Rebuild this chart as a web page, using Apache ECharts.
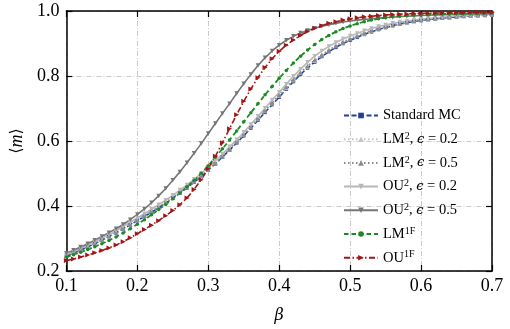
<!DOCTYPE html>
<html>
<head>
<meta charset="utf-8">
<script src="https://cdn.jsdelivr.net/npm/echarts@6/dist/echarts.min.js"></script>
<style>html,body{margin:0;padding:0;background:#fff}#c{width:510px;height:329px}</style>
</head>
<body>
<div id="c"></div>
<script>
const beta = [0.10,0.11,0.12,0.13,0.14,0.15,0.16,0.17,0.18,0.19,0.20,0.21,0.22,0.23,0.24,0.25,0.26,0.27,0.28,0.29,0.30,0.31,0.32,0.33,0.34,0.35,0.36,0.37,0.38,0.39,0.40,0.41,0.42,0.43,0.44,0.45,0.46,0.47,0.48,0.49,0.50,0.51,0.52,0.53,0.54,0.55,0.56,0.57,0.58,0.59,0.60,0.61,0.62,0.63,0.64,0.65,0.66,0.67,0.68,0.69,0.70];

const standardMC = [0.246,0.255,0.264,0.274,0.284,0.295,0.306,0.317,0.329,0.342,0.355,0.368,0.381,0.395,0.409,0.424,0.440,0.456,0.473,0.491,0.510,0.530,0.551,0.572,0.594,0.616,0.640,0.664,0.688,0.712,0.735,0.760,0.783,0.805,0.825,0.843,0.860,0.875,0.888,0.900,0.910,0.919,0.928,0.936,0.943,0.949,0.955,0.960,0.964,0.968,0.971,0.974,0.976,0.978,0.980,0.982,0.984,0.985,0.986,0.987,0.988];

const lm2_02 = [0.248,0.257,0.266,0.276,0.286,0.297,0.308,0.320,0.332,0.345,0.358,0.371,0.384,0.398,0.412,0.427,0.443,0.459,0.476,0.494,0.513,0.533,0.554,0.575,0.597,0.620,0.644,0.668,0.692,0.716,0.740,0.764,0.787,0.809,0.829,0.847,0.864,0.879,0.892,0.904,0.914,0.923,0.931,0.939,0.946,0.952,0.957,0.962,0.966,0.969,0.972,0.975,0.977,0.979,0.981,0.983,0.985,0.986,0.987,0.988,0.989];

const lm2_05 = [0.247,0.256,0.265,0.275,0.285,0.296,0.307,0.319,0.331,0.344,0.357,0.370,0.383,0.397,0.411,0.426,0.442,0.458,0.475,0.493,0.512,0.532,0.553,0.575,0.598,0.621,0.645,0.669,0.694,0.718,0.742,0.766,0.789,0.811,0.831,0.849,0.865,0.880,0.893,0.905,0.915,0.924,0.932,0.940,0.946,0.952,0.957,0.962,0.966,0.969,0.972,0.975,0.977,0.979,0.981,0.983,0.985,0.986,0.987,0.988,0.989];

const ou2_02 = [0.250,0.259,0.269,0.279,0.290,0.301,0.312,0.324,0.337,0.350,0.363,0.376,0.390,0.404,0.418,0.433,0.449,0.465,0.482,0.500,0.519,0.539,0.560,0.582,0.604,0.627,0.651,0.676,0.701,0.726,0.750,0.775,0.799,0.821,0.842,0.861,0.877,0.891,0.903,0.914,0.923,0.931,0.939,0.946,0.952,0.957,0.962,0.966,0.969,0.972,0.975,0.977,0.979,0.981,0.983,0.985,0.986,0.987,0.988,0.989,0.990];

const ou2_05 = [0.255,0.264,0.274,0.284,0.295,0.306,0.318,0.330,0.343,0.358,0.374,0.391,0.410,0.431,0.454,0.479,0.505,0.533,0.562,0.592,0.623,0.654,0.685,0.715,0.746,0.776,0.805,0.832,0.856,0.877,0.895,0.910,0.922,0.932,0.940,0.947,0.953,0.958,0.962,0.966,0.969,0.972,0.974,0.976,0.978,0.980,0.981,0.983,0.984,0.985,0.986,0.987,0.988,0.988,0.989,0.990,0.990,0.991,0.991,0.992,0.992];

const lm1f = [0.243,0.250,0.258,0.266,0.275,0.284,0.294,0.305,0.317,0.330,0.344,0.358,0.373,0.389,0.405,0.422,0.440,0.459,0.479,0.501,0.524,0.550,0.576,0.603,0.631,0.659,0.687,0.715,0.742,0.768,0.793,0.817,0.840,0.861,0.880,0.897,0.912,0.925,0.936,0.946,0.954,0.961,0.967,0.972,0.976,0.979,0.982,0.984,0.986,0.987,0.988,0.989,0.990,0.991,0.991,0.992,0.992,0.993,0.993,0.994,0.994];

const ou1f = [0.232,0.237,0.243,0.249,0.256,0.263,0.271,0.280,0.290,0.302,0.315,0.328,0.341,0.355,0.370,0.386,0.404,0.425,0.451,0.481,0.515,0.553,0.595,0.638,0.681,0.722,0.760,0.795,0.826,0.853,0.876,0.895,0.911,0.925,0.937,0.947,0.955,0.962,0.967,0.972,0.976,0.979,0.982,0.984,0.986,0.988,0.989,0.990,0.991,0.992,0.993,0.993,0.994,0.994,0.995,0.995,0.995,0.996,0.996,0.996,0.996];

const xTicks = [0.1,0.2,0.3,0.4,0.5,0.6,0.7];
const yTicks = [0.2,0.4,0.6,0.8,1.0];

const SERIF = 'Liberation Serif, DejaVu Serif, serif';

const seriesDefs = [
  {name:'std', values:standardMC, color:'#22409a', dash:[5,2.5], symbol:'rect', size:3.5, rot:0, width:1.6},
  {name:'lm02', values:lm2_02, color:'#c4c4c4', dash:[1.5,2.5], symbol:'triangle', size:4.5, rot:0, width:1.6},
  {name:'lm05', values:lm2_05, color:'#8a8a8a', dash:[1.5,2.5], symbol:'triangle', size:4.5, rot:0, width:1.6},
  {name:'ou02', values:ou2_02, color:'#b8b8b8', dash:'solid', symbol:'triangle', size:4.5, rot:180, width:1.6},
  {name:'ou02b', values:ou2_05, color:'#767676', dash:'solid', symbol:'triangle', size:4.5, rot:180, width:1.6},
  {name:'lm1f', values:lm1f, color:'#1c8a24', dash:[4.5,3], symbol:'circle', size:3.5, rot:0, width:1.8},
  {name:'ou1f', values:ou1f, color:'#a31616', dash:[6,2.5,1.5,2.5], symbol:'triangle', size:5, rot:-90, width:1.6}
];

const labels = {
  std: '{n|Standard MC}',
  lm02: '{n|LM}{s|2}{n|, }{e|ϵ}{n| = 0.2}',
  lm05: '{n|LM}{s|2}{n|, }{e|ϵ}{n| = 0.5}',
  ou02: '{n|OU}{s|2}{n|, }{e|ϵ}{n| = 0.2}',
  ou02b: '{n|OU}{s|2}{n|, }{e|ϵ}{n| = 0.5}',
  lm1f: '{n|LM}{s|1F}',
  ou1f: '{n|OU}{s|1F}'
};

const series = seriesDefs.map(d => ({
  name: d.name,
  type: 'line',
  xAxisIndex: 0, yAxisIndex: 0,
  data: beta.map((b,i) => [b, d.values[i]]),
  showSymbol: true,
  symbol: d.symbol,
  symbolSize: d.size,
  symbolRotate: d.rot,
  itemStyle: {color: d.color},
  lineStyle: {color: d.color, width: d.width, type: d.dash},
  animation: false,
  z: 3
}));

const gridLine = {show:true, lineStyle:{color:'#bdbdbd', width:0.8, type:[5,2,1,2]}};
const frame = {show:true, lineStyle:{color:'#000', width:1.5}};
const tickIn = {show:true, inside:true, length:6, lineStyle:{color:'#000', width:1.2}};

const chart = echarts.init(document.getElementById('c'), null, {renderer:'canvas'});
chart.setOption({
  animation:false,
  backgroundColor:'#fff',
  grid:{left:63, right:18, top:11, bottom:55, containLabel:false},
  legend:{
    orient:'vertical', left:338, top:103, itemWidth:34, itemHeight:7, itemGap:8.2,
    data: seriesDefs.map(d=>d.name),
    formatter: n => labels[n],
    textStyle:{fontFamily:SERIF, fontSize:14, color:'#000',
      rich:{
        n:{fontFamily:SERIF, fontSize:14.5, color:'#000', lineHeight:16},
        s:{fontFamily:SERIF, fontSize:10, color:'#000', verticalAlign:'top', lineHeight:10},
        e:{fontFamily:'DejaVu Serif, serif', fontStyle:'italic', fontSize:13, color:'#000', lineHeight:16}
      }}
  },
  xAxis:[
    {type:'value', min:0.1, max:0.7, interval:0.1, position:'bottom',
     axisLine:frame, axisTick:tickIn, splitLine:gridLine,
     axisLabel:{show:true, margin:6, fontFamily:SERIF, fontSize:18, color:'#000', formatter:v=>v.toFixed(1)},
     name:'{i|β}', nameLocation:'middle', nameGap:37,
     nameTextStyle:{rich:{i:{fontFamily:'DejaVu Serif, serif', fontStyle:'italic', fontSize:16, color:'#000'}}}},
    {type:'value', min:0.1, max:0.7, interval:0.1, position:'top',
     axisLine:frame, axisTick:tickIn, splitLine:{show:false}, axisLabel:{show:false}}
  ],
  yAxis:[
    {type:'value', min:0.2, max:1.0, interval:0.2, position:'left',
     axisLine:frame, axisTick:tickIn, splitLine:gridLine,
     axisLabel:{show:true, margin:7, fontFamily:SERIF, fontSize:18, color:'#000', formatter:v=>v.toFixed(1)},
     name:'{a|⟨}{i|m}{a|⟩}', nameLocation:'middle', nameGap:34, nameRotate:90,
     nameTextStyle:{rich:{a:{fontFamily:'DejaVu Serif, serif', fontSize:16, color:'#000'}, i:{fontFamily:SERIF, fontStyle:'italic', fontSize:18, color:'#000'}}}},
    {type:'value', min:0.2, max:1.0, interval:0.2, position:'right',
     axisLine:frame, axisTick:tickIn, splitLine:{show:false}, axisLabel:{show:false}}
  ],
  series: series
});
</script>
</body>
</html>
